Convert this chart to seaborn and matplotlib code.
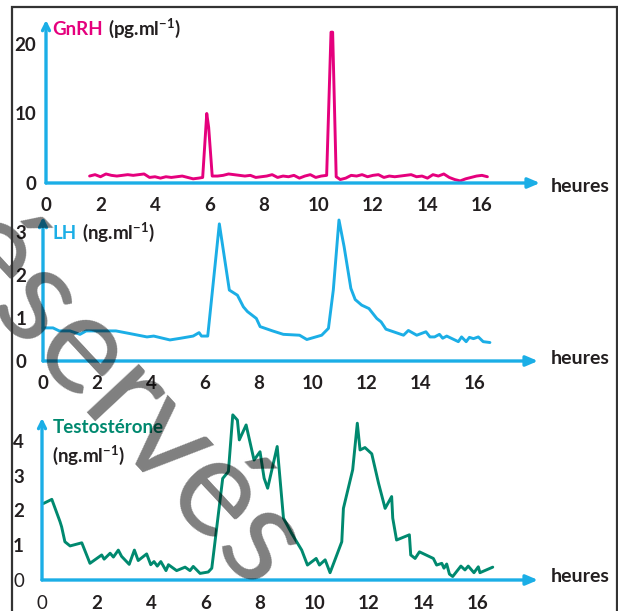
import matplotlib
matplotlib.use("Agg")
import matplotlib.pyplot as plt
import seaborn as sns
import pandas as pd
from matplotlib.patches import Rectangle

# ---------------- data ----------------
hours_ticks = [0, 2, 4, 6, 8, 10, 12, 14, 16]

gnrh_h = [1.6, 1.8, 2.0, 2.2, 2.4, 2.6, 2.8, 3.0, 3.2, 3.4, 3.6, 3.8, 4.0, 4.2, 4.4,
          4.6, 4.8, 5.0, 5.2, 5.4, 5.6, 5.75, 5.9, 5.97, 6.1, 6.3, 6.5, 6.7, 6.9, 7.1,
          7.3, 7.5, 7.7, 7.9, 8.1, 8.3, 8.5, 8.7, 8.9, 9.1, 9.3, 9.5, 9.7, 9.9, 10.1,
          10.3, 10.46, 10.52, 10.65, 10.8, 11.0, 11.2, 11.4, 11.6, 11.8, 12.0, 12.2,
          12.4, 12.6, 12.8, 13.0, 13.2, 13.4, 13.6, 13.8, 14.0, 14.2, 14.4, 14.6, 14.8,
          15.0, 15.2, 15.4, 15.6, 15.8, 16.0, 16.2]
gnrh_v = [1.0, 1.2, 0.9, 1.3, 1.1, 1.0, 1.1, 1.2, 1.1, 1.2, 1.3, 0.8, 0.9, 0.7, 0.9,
          0.8, 0.9, 1.0, 0.8, 0.6, 0.7, 0.8, 10.0, 8.0, 1.0, 1.0, 1.1, 1.3, 1.2, 1.1,
          1.0, 1.1, 0.8, 0.9, 1.0, 1.2, 0.8, 1.0, 0.9, 1.1, 0.7, 1.0, 1.2, 0.8, 1.0,
          1.1, 21.7, 21.7, 0.9, 0.5, 0.7, 1.1, 1.0, 1.2, 0.9, 1.1, 1.2, 0.8, 1.0, 0.9,
          1.0, 1.1, 1.2, 0.9, 1.0, 0.7, 1.2, 1.0, 1.3, 0.8, 0.5, 0.3, 0.6, 0.8, 1.0,
          1.1, 0.9]
gnrh_yticks = [0, 10, 20]

lh_h = [0, 0.37, 0.6, 1.0, 1.37, 1.6, 2.2, 2.7, 3.2, 3.85, 4.1, 4.7, 5.1, 5.56, 5.78,
        5.87, 6.1, 6.53, 6.9, 7.2, 7.42, 7.57, 7.9, 8.04, 8.5, 8.9, 9.5, 9.77, 10.32,
        10.57, 10.75, 10.96, 11.15, 11.4, 11.56, 11.8, 12.07, 12.36, 12.52, 12.7,
        13.35, 13.53, 13.84, 14.18, 14.33, 14.5, 14.68, 14.8, 14.95, 15.38, 15.5,
        15.67, 15.79, 15.94, 16.12, 16.3, 16.55]
lh_v = [0.77, 0.77, 0.7, 0.7, 0.62, 0.7, 0.7, 0.7, 0.64, 0.56, 0.58, 0.49, 0.53, 0.58,
        0.66, 0.58, 0.58, 3.19, 1.65, 1.53, 1.26, 1.15, 0.99, 0.8, 0.7, 0.62, 0.6, 0.5,
        0.6, 0.76, 1.65, 3.28, 2.66, 1.69, 1.43, 1.30, 1.22, 0.99, 0.91, 0.74, 0.6,
        0.71, 0.6, 0.68, 0.56, 0.56, 0.62, 0.53, 0.58, 0.45, 0.56, 0.45, 0.55, 0.52,
        0.56, 0.45, 0.43]
lh_yticks = [0, 1, 2, 3]

testo_h = [0.05, 0.36, 0.66, 0.72, 0.84, 1.03, 1.46, 1.76, 2.19, 2.28, 2.5, 2.62, 2.8,
           2.92, 3.2, 3.39, 3.53, 3.84, 3.99, 4.11, 4.23, 4.36, 4.55, 4.64, 4.94, 5.25,
           5.43, 5.55, 5.8, 6.1, 6.23, 6.63, 6.84, 7.0, 7.17, 7.24, 7.49, 7.78, 8.0,
           8.15, 8.28, 8.63, 8.86, 9.16, 9.53, 9.74, 10.06, 10.18, 10.39, 10.57, 10.75,
           11.0, 11.06, 11.4, 11.57, 11.67, 11.85, 12.1, 12.35, 12.59, 12.83, 12.87,
           13.01, 13.48, 13.53, 13.69, 13.85, 14.36, 14.48, 14.67, 14.75, 14.85, 14.95,
           15.07, 15.37, 15.52, 15.64, 15.85, 16.01, 16.07, 16.54]
testo_v = [2.2, 2.32, 1.68, 1.53, 1.1, 0.98, 1.07, 0.48, 0.72, 0.6, 0.77, 0.66, 0.86,
           0.68, 0.45, 0.86, 0.56, 0.75, 0.44, 0.53, 0.4, 0.53, 0.27, 0.44, 0.27, 0.37,
           0.27, 0.39, 0.19, 0.23, 0.34, 2.92, 3.12, 4.75, 4.6, 4.03, 4.46, 3.45, 3.69,
           2.93, 2.64, 3.84, 1.78, 1.34, 0.86, 0.43, 0.62, 0.43, 0.58, 0.21, 0.58, 1.1,
           2.06, 3.17, 4.51, 3.74, 3.81, 3.63, 2.78, 2.06, 2.4, 1.78, 1.15, 1.3, 0.72,
           0.62, 0.81, 0.62, 0.43, 0.48, 0.34, 0.46, 0.17, 0.1, 0.4, 0.29, 0.4, 0.21,
           0.38, 0.21, 0.37]
testo_yticks = [0, 1, 2, 3, 4]

watermark = "Réservés"

# ---------------- style ----------------
sns.set_style("white")
plt.rcParams["font.family"] = ["Lato", "DejaVu Sans"]
plt.rcParams["mathtext.fontset"] = "custom"
plt.rcParams["mathtext.rm"] = "Lato"
plt.rcParams["mathtext.bf"] = "Lato:bold"
plt.rcParams["mathtext.it"] = "Lato:italic"

MAG = "#E5007D"
BLUE = "#1BAEE6"
TEAL = "#00896F"
DARK = "#231F20"

W, H = 618, 611
fig = plt.figure(figsize=(W / 100, H / 100), dpi=100)
fig.patch.set_facecolor("white")


def add_ax(left, right, top, bottom):
    return fig.add_axes([left / W, 1 - bottom / H, (right - left) / W, (bottom - top) / H])


panels = [
    dict(box=(46, 540, 20, 183), xmax=18.13, ymax=23.45, h=gnrh_h, v=gnrh_v,
         yt=gnrh_yticks, color=MAG, xpad=4, ypad=1),
    dict(box=(43, 538, 217, 361), xmax=18.33, ymax=3.35, h=lh_h, v=lh_v,
         yt=lh_yticks, color=BLUE, xpad=4, ypad=6),
    dict(box=(42, 538, 418, 580), xmax=18.2, ymax=4.66, h=testo_h, v=testo_v,
         yt=testo_yticks, color=TEAL, xpad=5, ypad=7),
]

axes = []
for i, p in enumerate(panels):
    ax = add_ax(*p["box"])
    ax.set_facecolor("none")
    df = pd.DataFrame({"heures": p["h"], "valeur": p["v"]})
    sns.lineplot(data=df, x="heures", y="valeur", ax=ax, color=p["color"], lw=2.1,
                 sort=False, estimator=None, clip_on=False)
    ax.set_xlim(0, p["xmax"])
    ax.set_ylim(0, p["ymax"])
    ax.set_xlabel("")
    ax.set_ylabel("")
    for s in ax.spines.values():
        s.set_visible(False)
    ax.set_xticks(hours_ticks, labels=[str(t) for t in hours_ticks], fontweight="bold")
    ax.set_yticks(p["yt"], labels=[str(t) for t in p["yt"]], fontweight="bold")
    ax.tick_params(axis="both", direction="out", length=6, width=1.6, color=MAG,
                   labelcolor=DARK, labelsize=13.5)
    ax.tick_params(axis="x", pad=p["xpad"])
    ax.tick_params(axis="y", pad=p["ypad"])
    if i == 2:
        ax.get_xticklabels()[0].set_fontweight("normal")
        ax.get_yticklabels()[0].set_fontweight("normal")
    ax.grid(False)
    # axis arrows
    ax.annotate("", xy=(1, 0), xytext=(0, 0), xycoords="axes fraction",
                arrowprops=dict(arrowstyle="-|>,head_length=0.7,head_width=0.3",
                                color=BLUE, lw=2.4, shrinkA=0, shrinkB=0),
                annotation_clip=False)
    ax.annotate("", xy=(0, 1), xytext=(0, 0), xycoords="axes fraction",
                arrowprops=dict(arrowstyle="->,head_length=0.5,head_width=0.25",
                                color=BLUE, lw=2.4, shrinkA=0, shrinkB=0),
                annotation_clip=False)
    axes.append(ax)

# "heures" labels
for base in (192, 364, 582):
    fig.text(551 / W, 1 - base / H, "heures", fontsize=14, fontweight="bold",
             color=DARK, va="baseline", ha="left")

renderer = fig.canvas.get_renderer()


def title(x, base, head, hcol, tail):
    t1 = fig.text(x / W, 1 - base / H, head, color=hcol, fontsize=13.5,
                  fontweight="bold", va="baseline", ha="left")
    if tail:
        bb = t1.get_window_extent(renderer)
        fig.text((bb.x1 + 5) / W, 1 - base / H, tail, color=DARK, fontsize=13.5,
                 fontweight="bold", va="baseline", ha="left")


title(52, 35, "GnRH", MAG, r"(pg.ml$^{\mathbf{-1}}$)")
title(53, 239, "LH", BLUE, r"(ng.ml$^{\mathbf{-1}}$)")
title(53, 433, "Testostérone", TEAL, "")
fig.text(52 / W, 1 - 462 / H, r"(ng.ml$^{\mathbf{-1}}$)", color=DARK, fontsize=13.5,
         fontweight="bold", va="baseline", ha="left")

# watermark
fig.text(91 / W, 1 - 373 / H, watermark, rotation=-47, rotation_mode="anchor",
         fontsize=100, color="black", alpha=0.5, ha="center", va="center",
         family=["Lato", "DejaVu Sans"], zorder=20)

# frame
fig.patches.append(Rectangle((12 / W, -0.05), (617 - 12) / W, 1 - 7 / H + 0.05,
                             transform=fig.transFigure, fill=False, ec="#333333",
                             lw=1.6, zorder=30))

fig.savefig("out.png", dpi=100, facecolor="white")
